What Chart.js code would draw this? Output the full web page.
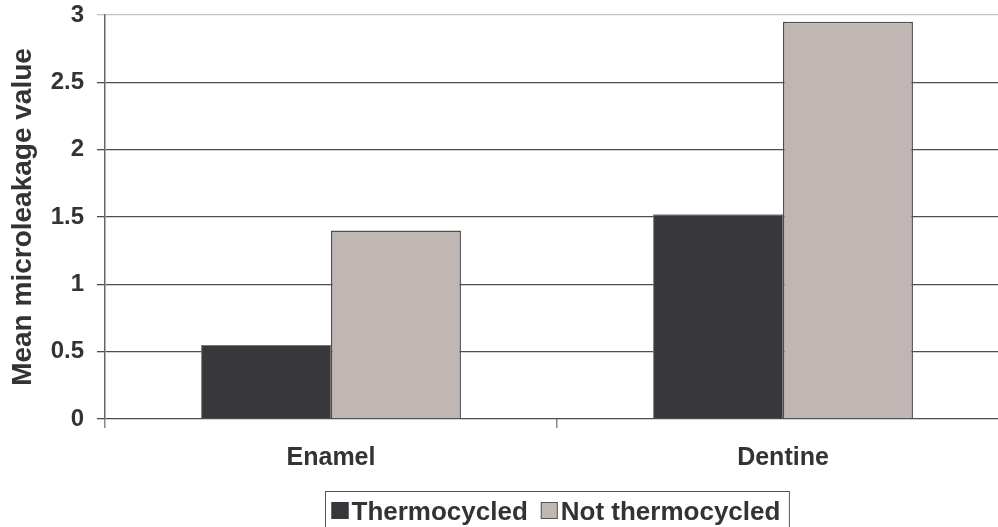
<!DOCTYPE html>
<html>
<head>
<meta charset="utf-8">
<script src="https://cdn.jsdelivr.net/npm/chart.js@4"></script>
<style>
  html, body { margin: 0; padding: 0; background: #fff; overflow: hidden; }
  canvas { display: block; }
</style>
</head>
<body>
<canvas id="leakChart" width="1012" height="527"></canvas>
<script>
// 資料
const categories = ['Enamel', 'Dentine'];
const thermocycled = [0.55, 1.52];
const notThermocycled = [1.4, 2.95];
const yTicks = [0, 0.5, 1, 1.5, 2, 2.5, 3];

const textColor = '#333333';
const fontFamily = '"Liberation Sans", Arial, sans-serif';

// 自訂圖例（帶外框）
const boxedLegend = {
    id: 'boxedLegend',
    afterDraw(chart) {
        const ctx = chart.ctx;
        const area = chart.chartArea;
        ctx.save();
        ctx.font = 'bold 26px ' + fontFamily;
        const sq = 17, gap = 3, between = 13, padL = 6, padR = 9;
        const items = chart.data.datasets.map(ds => ({
            label: ds.label, fill: ds.backgroundColor, stroke: ds.legendStroke,
            w: ctx.measureText(ds.label).width
        }));
        let total = padL + padR;
        items.forEach((it, i) => { total += sq + gap + it.w + (i ? between : 0); });
        const cx = (area.left + area.right) / 2;
        const left = Math.round(cx - total / 2) + 0.5;
        const top = 491.5;
        ctx.strokeStyle = '#555';
        ctx.lineWidth = 1;
        ctx.strokeRect(left, top, total, 60);
        let x = left + padL;
        items.forEach((it, i) => {
            if (i) x += between;
            ctx.fillStyle = it.fill;
            ctx.fillRect(x, 502, sq, sq);
            ctx.strokeStyle = it.stroke;
            ctx.strokeRect(x + 0.5, 502.5, sq - 1, sq - 1);
            x += sq + gap;
            ctx.fillStyle = textColor;
            ctx.textBaseline = 'alphabetic';
            ctx.fillText(it.label, x, 520);
            x += it.w;
        });
        ctx.restore();
    }
};

new Chart(document.getElementById('leakChart'), {
    type: 'bar',
    data: {
        labels: categories,
        datasets: [
            {
                label: 'Thermocycled',
                data: thermocycled,
                backgroundColor: '#38373c',
                borderColor: '#77767b',
                borderWidth: 1,
                legendStroke: '#38373c'
            },
            {
                label: 'Not thermocycled',
                data: notThermocycled,
                backgroundColor: '#c0b7b5',
                borderColor: '#4e4e50',
                borderWidth: 1.5,
                legendStroke: '#555'
            }
        ]
    },
    options: {
        responsive: false,
        devicePixelRatio: 1,
        animation: false,
        categoryPercentage: 0.575,
        barPercentage: 1,
        layout: { padding: { top: 15, right: 3, bottom: 39, left: 0 } },
        plugins: {
            legend: { display: false },
            tooltip: { enabled: false }
        },
        scales: {
            x: {
                offset: true,
                grid: {
                    offset: true,
                    drawOnChartArea: false,
                    drawTicks: true,
                    tickLength: 9,
                    color: '#888',
                    lineWidth: 1.5
                },
                border: { display: false },
                ticks: {
                    color: textColor,
                    padding: 15,
                    font: { family: fontFamily, size: 25, weight: 'bold' }
                }
            },
            y: {
                min: 0,
                max: 3,
                afterBuildTicks(scale) {
                    scale.ticks = yTicks.map(v => ({ value: v }));
                },
                afterFit(scale) {
                    scale.width = 105;
                    scale.paddingTop = 0;
                    scale.paddingBottom = 0;
                },
                grid: {
                    color: c => (c.tick && c.tick.value === 3) ? '#c9c1bf' : '#4d4d4d',
                    lineWidth: 1.3,
                    tickLength: 8
                },
                border: { color: '#666', width: 1.5 },
                ticks: {
                    color: textColor,
                    padding: 13,
                    font: { family: fontFamily, size: 24, weight: 'bold' },
                    callback: v => String(v)
                },
                title: {
                    display: true,
                    text: 'Mean microleakage value',
                    color: textColor,
                    padding: { top: 6, bottom: 0 },
                    font: { family: fontFamily, size: 28, weight: 'bold' }
                }
            }
        }
    },
    plugins: [boxedLegend]
});
</script>
</body>
</html>
